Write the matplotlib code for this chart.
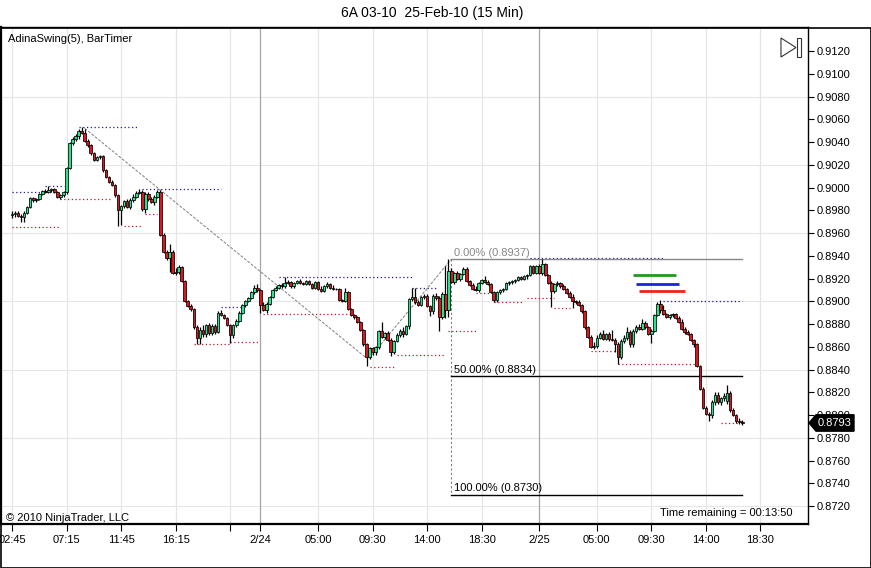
import numpy as np
import pandas as pd
import matplotlib
matplotlib.use('Agg')
import matplotlib.pyplot as plt
from matplotlib.patches import Polygon, Rectangle
import matplotlib.transforms as mtransforms

plt.rcParams['font.family'] = ['Liberation Sans', 'DejaVu Sans']

# 15 min bars, session break 23:00-00:00 (last session runs into the future for the axis)
sessions = [('2010-02-23 02:45', '2010-02-23 23:00'),
            ('2010-02-24 00:15', '2010-02-24 23:00'),
            ('2010-02-25 00:15', '2010-02-25 18:30')]

open_ = [
    0.8976, 0.8977, 0.8978, 0.8975, 0.8974, 0.8978, 0.8983, 0.8991, 0.8989, 0.8990,
    0.8994, 0.8997, 0.8996, 0.8998, 0.8999, 0.8996, 0.8992, 0.8993, 0.8996, 0.9017,
    0.9039, 0.9043, 0.9045, 0.9050, 0.9048, 0.9041, 0.9037, 0.9030, 0.9024, 0.9027,
    0.9028, 0.9015, 0.9009, 0.9005, 0.9002, 0.8993, 0.8980, 0.8984, 0.8988, 0.8983,
    0.8989, 0.8992, 0.8995, 0.8996, 0.8981, 0.8994, 0.8990, 0.8987, 0.8992, 0.8996,
    0.8958, 0.8943, 0.8938, 0.8943, 0.8925, 0.8926, 0.8930, 0.8918, 0.8900, 0.8896,
    0.8893, 0.8877, 0.8868, 0.8875, 0.8871, 0.8879, 0.8872, 0.8878, 0.8873, 0.8890,
    0.8888, 0.8885, 0.8879, 0.8870, 0.8879, 0.8883, 0.8890, 0.8897, 0.8900, 0.8903,
    0.8908, 0.8912, 0.8910, 0.8897, 0.8892, 0.8898, 0.8904, 0.8910, 0.8912, 0.8914,
    0.8913, 0.8916, 0.8917, 0.8913, 0.8916, 0.8918, 0.8916, 0.8915, 0.8918, 0.8915,
    0.8912, 0.8917, 0.8911, 0.8909, 0.8913, 0.8915, 0.8912, 0.8911, 0.8911, 0.8901,
    0.8900, 0.8908, 0.8893, 0.8888, 0.8886, 0.8882, 0.8875, 0.8862, 0.8851, 0.8859,
    0.8855, 0.8860, 0.8874, 0.8869, 0.8872, 0.8866, 0.8855, 0.8865, 0.8870, 0.8874,
    0.8871, 0.8878, 0.8902, 0.8904, 0.8899, 0.8897, 0.8904, 0.8905, 0.8896, 0.8891,
    0.8905, 0.8903, 0.8886, 0.8906, 0.8892, 0.8927, 0.8917, 0.8925, 0.8920, 0.8924,
    0.8928, 0.8918, 0.8914, 0.8911, 0.8910, 0.8916, 0.8919, 0.8917, 0.8915, 0.8908,
    0.8901, 0.8908, 0.8910, 0.8911, 0.8916, 0.8917, 0.8918, 0.8919, 0.8921, 0.8920,
    0.8922, 0.8923, 0.8931, 0.8925, 0.8931, 0.8925, 0.8933, 0.8923, 0.8916, 0.8909,
    0.8915, 0.8916, 0.8913, 0.8911, 0.8907, 0.8904, 0.8900, 0.8899, 0.8897, 0.8891,
    0.8877, 0.8869, 0.8860, 0.8861, 0.8868, 0.8871, 0.8867, 0.8871, 0.8867, 0.8866,
    0.8862, 0.8851, 0.8865, 0.8868, 0.8873, 0.8862, 0.8874, 0.8877, 0.8876, 0.8881,
    0.8877, 0.8871, 0.8874, 0.8888, 0.8898, 0.8892, 0.8889, 0.8886, 0.8888, 0.8889,
    0.8885, 0.8882, 0.8876, 0.8873, 0.8871, 0.8866, 0.8862, 0.8843, 0.8823, 0.8806,
    0.8801, 0.8800, 0.8811, 0.8818, 0.8811, 0.8815, 0.8812, 0.8819, 0.8804, 0.8800,
    0.8795, 0.8794]

high = [
    0.8979, 0.8979, 0.8979, 0.8977, 0.8979, 0.8984, 0.8992, 0.8992, 0.8991, 0.8995,
    0.8998, 0.8999, 0.9001, 0.9000, 0.9000, 0.8997, 0.8994, 0.8997, 0.9018, 0.9040,
    0.9044, 0.9047, 0.9051, 0.9053, 0.9051, 0.9043, 0.9038, 0.9031, 0.9028, 0.9029,
    0.9029, 0.9016, 0.9010, 0.9007, 0.9003, 0.8994, 0.8985, 0.8989, 0.8990, 0.8991,
    0.8994, 0.8997, 0.8999, 0.8998, 0.8996, 0.8996, 0.8992, 0.8993, 0.8998, 0.8998,
    0.8960, 0.8945, 0.8950, 0.8945, 0.8929, 0.8932, 0.8931, 0.8919, 0.8901, 0.8898,
    0.8894, 0.8879, 0.8877, 0.8879, 0.8880, 0.8881, 0.8880, 0.8880, 0.8891, 0.8892,
    0.8889, 0.8886, 0.8880, 0.8880, 0.8884, 0.8891, 0.8898, 0.8901, 0.8904, 0.8909,
    0.8914, 0.8915, 0.8911, 0.8899, 0.8899, 0.8905, 0.8911, 0.8913, 0.8915, 0.8916,
    0.8921, 0.8919, 0.8918, 0.8917, 0.8919, 0.8920, 0.8917, 0.8919, 0.8919, 0.8916,
    0.8918, 0.8918, 0.8913, 0.8914, 0.8917, 0.8916, 0.8914, 0.8912, 0.8912, 0.8902,
    0.8912, 0.8909, 0.8894, 0.8889, 0.8887, 0.8883, 0.8876, 0.8863, 0.8860, 0.8860,
    0.8861, 0.8875, 0.8882, 0.8873, 0.8874, 0.8868, 0.8866, 0.8872, 0.8876, 0.8877,
    0.8879, 0.8903, 0.8912, 0.8912, 0.8901, 0.8905, 0.8906, 0.8906, 0.8897, 0.8906,
    0.8907, 0.8905, 0.8908, 0.8931, 0.8937, 0.8929, 0.8926, 0.8927, 0.8925, 0.8930,
    0.8930, 0.8919, 0.8916, 0.8913, 0.8917, 0.8920, 0.8922, 0.8919, 0.8916, 0.8909,
    0.8909, 0.8911, 0.8912, 0.8917, 0.8918, 0.8919, 0.8920, 0.8922, 0.8922, 0.8923,
    0.8924, 0.8932, 0.8932, 0.8932, 0.8933, 0.8937, 0.8934, 0.8924, 0.8918, 0.8916,
    0.8918, 0.8917, 0.8915, 0.8912, 0.8909, 0.8906, 0.8901, 0.8901, 0.8898, 0.8892,
    0.8878, 0.8870, 0.8864, 0.8870, 0.8873, 0.8875, 0.8872, 0.8873, 0.8875, 0.8868,
    0.8864, 0.8867, 0.8870, 0.8877, 0.8875, 0.8876, 0.8879, 0.8880, 0.8884, 0.8883,
    0.8878, 0.8876, 0.8889, 0.8899, 0.8901, 0.8897, 0.8890, 0.8889, 0.8890, 0.8890,
    0.8887, 0.8884, 0.8877, 0.8875, 0.8872, 0.8867, 0.8863, 0.8844, 0.8825, 0.8808,
    0.8803, 0.8813, 0.8820, 0.8820, 0.8816, 0.8819, 0.8826, 0.8821, 0.8806, 0.8801,
    0.8797, 0.8796]

low = [
    0.8973, 0.8974, 0.8974, 0.8970, 0.8970, 0.8977, 0.8982, 0.8987, 0.8987, 0.8989,
    0.8993, 0.8995, 0.8995, 0.8996, 0.8995, 0.8991, 0.8990, 0.8992, 0.8994, 0.9016,
    0.9037, 0.9041, 0.9043, 0.9047, 0.9040, 0.9036, 0.9029, 0.9023, 0.9023, 0.9025,
    0.9014, 0.9008, 0.9004, 0.9001, 0.8992, 0.8966, 0.8967, 0.8982, 0.8982, 0.8981,
    0.8987, 0.8991, 0.8994, 0.8979, 0.8978, 0.8988, 0.8986, 0.8985, 0.8991, 0.8957,
    0.8942, 0.8936, 0.8926, 0.8924, 0.8923, 0.8924, 0.8917, 0.8899, 0.8895, 0.8891,
    0.8876, 0.8862, 0.8862, 0.8869, 0.8869, 0.8870, 0.8870, 0.8871, 0.8872, 0.8887,
    0.8884, 0.8878, 0.8863, 0.8868, 0.8877, 0.8882, 0.8889, 0.8895, 0.8899, 0.8902,
    0.8906, 0.8908, 0.8890, 0.8891, 0.8890, 0.8897, 0.8903, 0.8909, 0.8911, 0.8912,
    0.8912, 0.8915, 0.8912, 0.8912, 0.8915, 0.8915, 0.8914, 0.8914, 0.8914, 0.8911,
    0.8911, 0.8910, 0.8908, 0.8908, 0.8912, 0.8911, 0.8910, 0.8910, 0.8900, 0.8899,
    0.8899, 0.8892, 0.8887, 0.8884, 0.8881, 0.8874, 0.8861, 0.8843, 0.8849, 0.8853,
    0.8853, 0.8858, 0.8868, 0.8867, 0.8865, 0.8852, 0.8854, 0.8864, 0.8869, 0.8869,
    0.8870, 0.8876, 0.8900, 0.8898, 0.8896, 0.8896, 0.8902, 0.8895, 0.8887, 0.8889,
    0.8901, 0.8874, 0.8884, 0.8885, 0.8886, 0.8916, 0.8915, 0.8919, 0.8918, 0.8923,
    0.8917, 0.8913, 0.8910, 0.8909, 0.8908, 0.8915, 0.8916, 0.8914, 0.8907, 0.8899,
    0.8899, 0.8906, 0.8908, 0.8910, 0.8914, 0.8915, 0.8916, 0.8918, 0.8919, 0.8919,
    0.8920, 0.8922, 0.8924, 0.8924, 0.8924, 0.8923, 0.8922, 0.8915, 0.8895, 0.8907,
    0.8913, 0.8912, 0.8910, 0.8906, 0.8903, 0.8894, 0.8898, 0.8896, 0.8890, 0.8876,
    0.8868, 0.8859, 0.8858, 0.8859, 0.8867, 0.8866, 0.8866, 0.8865, 0.8865, 0.8855,
    0.8845, 0.8849, 0.8863, 0.8866, 0.8860, 0.8860, 0.8872, 0.8875, 0.8875, 0.8876,
    0.8870, 0.8863, 0.8873, 0.8887, 0.8890, 0.8888, 0.8885, 0.8884, 0.8886, 0.8884,
    0.8881, 0.8875, 0.8871, 0.8870, 0.8865, 0.8860, 0.8842, 0.8822, 0.8805, 0.8800,
    0.8795, 0.8797, 0.8809, 0.8810, 0.8809, 0.8812, 0.8810, 0.8803, 0.8799, 0.8793,
    0.8792, 0.8791]

close = [
    0.8977, 0.8978, 0.8975, 0.8974, 0.8978, 0.8983, 0.8991, 0.8989, 0.8990, 0.8994,
    0.8997, 0.8996, 0.8998, 0.8999, 0.8996, 0.8992, 0.8993, 0.8996, 0.9017, 0.9039,
    0.9043, 0.9045, 0.9050, 0.9048, 0.9041, 0.9037, 0.9030, 0.9024, 0.9027, 0.9028,
    0.9015, 0.9009, 0.9005, 0.9002, 0.8993, 0.8980, 0.8984, 0.8988, 0.8983, 0.8989,
    0.8992, 0.8995, 0.8996, 0.8981, 0.8994, 0.8990, 0.8987, 0.8992, 0.8996, 0.8958,
    0.8943, 0.8938, 0.8943, 0.8925, 0.8926, 0.8930, 0.8918, 0.8900, 0.8896, 0.8893,
    0.8877, 0.8868, 0.8875, 0.8871, 0.8879, 0.8872, 0.8878, 0.8873, 0.8890, 0.8888,
    0.8885, 0.8879, 0.8870, 0.8879, 0.8883, 0.8890, 0.8897, 0.8900, 0.8903, 0.8908,
    0.8912, 0.8910, 0.8897, 0.8892, 0.8898, 0.8904, 0.8910, 0.8912, 0.8914, 0.8913,
    0.8916, 0.8917, 0.8913, 0.8916, 0.8918, 0.8916, 0.8915, 0.8918, 0.8915, 0.8912,
    0.8917, 0.8911, 0.8909, 0.8913, 0.8915, 0.8912, 0.8911, 0.8911, 0.8901, 0.8900,
    0.8908, 0.8893, 0.8888, 0.8886, 0.8882, 0.8875, 0.8862, 0.8851, 0.8859, 0.8855,
    0.8860, 0.8874, 0.8869, 0.8872, 0.8866, 0.8855, 0.8865, 0.8870, 0.8874, 0.8871,
    0.8878, 0.8902, 0.8904, 0.8899, 0.8897, 0.8904, 0.8905, 0.8896, 0.8891, 0.8905,
    0.8903, 0.8886, 0.8906, 0.8892, 0.8927, 0.8917, 0.8925, 0.8920, 0.8924, 0.8928,
    0.8918, 0.8914, 0.8911, 0.8910, 0.8916, 0.8919, 0.8917, 0.8915, 0.8908, 0.8901,
    0.8908, 0.8910, 0.8911, 0.8916, 0.8917, 0.8918, 0.8919, 0.8921, 0.8920, 0.8922,
    0.8923, 0.8931, 0.8925, 0.8931, 0.8925, 0.8933, 0.8923, 0.8916, 0.8909, 0.8915,
    0.8916, 0.8913, 0.8911, 0.8907, 0.8904, 0.8900, 0.8899, 0.8897, 0.8891, 0.8877,
    0.8869, 0.8860, 0.8861, 0.8868, 0.8871, 0.8867, 0.8871, 0.8867, 0.8866, 0.8862,
    0.8851, 0.8865, 0.8868, 0.8873, 0.8862, 0.8874, 0.8877, 0.8876, 0.8881, 0.8877,
    0.8871, 0.8874, 0.8888, 0.8898, 0.8892, 0.8889, 0.8886, 0.8888, 0.8889, 0.8885,
    0.8882, 0.8876, 0.8873, 0.8871, 0.8866, 0.8862, 0.8843, 0.8823, 0.8806, 0.8801,
    0.8800, 0.8811, 0.8818, 0.8811, 0.8815, 0.8817, 0.8819, 0.8804, 0.8800, 0.8795,
    0.8794, 0.8793]

tick_times = ['2010-02-23 02:45', '2010-02-23 07:15', '2010-02-23 11:45', '2010-02-23 16:15',
              '2010-02-23 20:45', '2010-02-24 00:15', '2010-02-24 05:00', '2010-02-24 09:30',
              '2010-02-24 14:00', '2010-02-24 18:30', '2010-02-25 00:15', '2010-02-25 05:00',
              '2010-02-25 09:30', '2010-02-25 14:00', '2010-02-25 18:30']
tick_labels = ['02:45', '07:15', '11:45', '16:15', '', '2/24', '05:00', '09:30',
               '14:00', '18:30', '2/25', '05:00', '09:30', '14:00', '18:30']
day_labels = ['2/24', '2/25']

# AdinaSwing dotted levels: start bar, end bar, price
swing_hi_start = [0, 11, 22, 43, 69, 88, 132, 171, 215]
swing_hi_end = [14, 17, 42, 69, 76, 132, 140, 215, 241]
swing_hi_price = [0.8996, 0.9001, 0.9053, 0.8999, 0.8895, 0.8921, 0.8912, 0.8938, 0.8900]
swing_lo_start = [0, 16, 37, 44, 60, 72, 83, 118, 127, 144, 153, 159, 170, 179, 191, 200, 234]
swing_lo_end = [16, 33, 43, 48, 72, 82, 112, 126, 143, 153, 159, 169, 179, 184, 200, 227, 240]
swing_lo_price = [0.8965, 0.8990, 0.8966, 0.8977, 0.8862, 0.8864, 0.8889, 0.8842, 0.8853,
                  0.8874, 0.8907, 0.8899, 0.8903, 0.8894, 0.8856, 0.8845, 0.8793]

# hand drawn trend lines (bar, price) pairs
trend_bars = [(24, 117), (118, 145)]
trend_prices = [(0.9052, 0.8850), (0.8850, 0.8937)]

# fibonacci retracement
fib_bars = (145, 241)
fib_levels = [0.8937, 0.8834, 0.8730]
fib_labels = ['0.00% (0.8937)', '50.00% (0.8834)', '100.00% (0.8730)']

# short coloured lines
mark_start = [205, 206, 207]
mark_end = [219, 220, 222]
mark_price = [0.8923, 0.8915, 0.8909]
mark_colors = ['#229922', '#1a22e6', '#ee2222']

last_price = 0.8793

times = pd.DatetimeIndex(np.concatenate(
    [pd.date_range(a, b, freq='15min').values for a, b in sessions]))
tick_pos = times.get_indexer(pd.to_datetime(tick_times))

o = np.array(open_)
h = np.array(high)
l = np.array(low)
c = np.array(close)
x = np.arange(len(c))

fig = plt.figure(figsize=(8.71, 5.68), dpi=100)
ax = fig.add_axes([1 / 871, 44 / 568, 807 / 871, 497 / 568])
ax.set_xlim(-3.63, 262.7)
ax.set_ylim(0.870418, 0.914110)

# grid
for p in np.arange(0.8720, 0.9081, 0.0060):
    ax.axhline(p, color='#e6e6e6', lw=0.8, zorder=0)
for pos, lab in zip(tick_pos, tick_labels):
    col = '#a6a6a6' if lab in day_labels else '#e6e6e6'
    ax.axvline(pos, color=col, lw=0.9, zorder=0)

# swing lines
for s, e, p in zip(swing_hi_start, swing_hi_end, swing_hi_price):
    ax.plot([s, e], [p, p], color='#1c1c8c', lw=0.9, ls=(0, (1, 2)), zorder=1)
for s, e, p in zip(swing_lo_start, swing_lo_end, swing_lo_price):
    ax.plot([s, e], [p, p], color='#b8182e', lw=0.9, ls=(0, (1, 2)), zorder=1)

for b, p in zip(trend_bars, trend_prices):
    ax.plot(b, p, color='#808080', lw=0.7, ls=(0, (3, 1.5)), zorder=1)

# fib
ax.plot([fib_bars[0], fib_bars[0]], [fib_levels[0], fib_levels[-1]],
        color='#808080', lw=0.8, ls=(0, (2, 2)), zorder=1)
for i, (lv, lab) in enumerate(zip(fib_levels, fib_labels)):
    col = '#888888' if i == 0 else 'black'
    ax.plot(fib_bars, [lv, lv], color=col, lw=1.0, zorder=2)
    ax.text(fib_bars[0] + 1, lv + 0.00012, lab, fontsize=8, color=col,
            ha='left', va='bottom', zorder=2)

for s, e, p, col in zip(mark_start, mark_end, mark_price, mark_colors):
    ax.plot([s, e], [p, p], color=col, lw=2.0, solid_capstyle='butt', zorder=2)

# candles
ax.vlines(x, l, h, color='black', lw=0.9, zorder=3)
body_col = np.where(c >= o, '#27e38a', '#e0141c')
ax.bar(x, c - o, bottom=o, width=0.86, color=body_col, edgecolor='black',
       linewidth=0.55, zorder=4)

# axes
ax.yaxis.tick_right()
ax.set_yticks(np.arange(0.8720, 0.91201, 0.0020))
ax.yaxis.set_major_formatter(plt.FormatStrFormatter('%.4f'))
ax.set_xticks(tick_pos)
ax.set_xticklabels(tick_labels)
ax.tick_params(axis='y', direction='out', length=4, width=0.8, labelsize=8, pad=2)
ax.tick_params(axis='x', direction='out', length=5, width=0.8, labelsize=8, pad=3)
for side in ['top', 'left', 'right']:
    ax.spines[side].set_linewidth(1.0)
ax.spines['bottom'].set_linewidth(1.6)
ax.spines['left'].set_linewidth(1.6)

# price marker
trans = mtransforms.blended_transform_factory(ax.transAxes, ax.transData)
hh = 0.00072
pts = [(1.0 + 1 / 807, last_price), (1.0 + 8 / 807, last_price + hh),
       (1.0 + 46 / 807, last_price + hh), (1.0 + 46 / 807, last_price - hh),
       (1.0 + 8 / 807, last_price - hh)]
ax.add_patch(Polygon(pts, closed=True, transform=trans, facecolor='black',
                     edgecolor='black', clip_on=False, zorder=10))
ax.text(1.0 + 27 / 807, last_price, '%.4f' % last_price, transform=trans, color='white',
        fontsize=8, ha='center', va='center', clip_on=False, zorder=11)

# icon top right
ax.add_patch(Polygon([(0.9665, 0.9779), (0.9851, 0.9587), (0.9665, 0.9396)],
                     closed=True, fill=False, ec='#333333', lw=0.8,
                     transform=ax.transAxes, zorder=10))
ax.add_patch(Rectangle((0.9864, 0.9396), 0.005, 0.0383, fill=False, ec='#333333',
                       lw=0.8, transform=ax.transAxes, zorder=10))

ax.text(0.0087, 0.9759, 'AdinaSwing(5), BarTimer', transform=ax.transAxes,
        fontsize=8, ha='left', va='center')
ax.text(0.0062, 0.012, '\u00a9 2010 NinjaTrader, LLC', transform=ax.transAxes,
        fontsize=8, ha='left', va='center')
ax.text(0.9814, 0.0221, 'Time remaining = 00:13:50', transform=ax.transAxes,
        fontsize=8, ha='right', va='center')

fig.text(0.496, 1 - 13 / 568, '6A 03-10  25-Feb-10 (15 Min)', fontsize=10,
         ha='center', va='center')
fig.add_artist(Rectangle((0.5 / 871, 0.5 / 568), 870 / 871, 540 / 568, fill=False,
                         ec='black', lw=1.2, transform=fig.transFigure))

fig.savefig('out.png', dpi=100)
